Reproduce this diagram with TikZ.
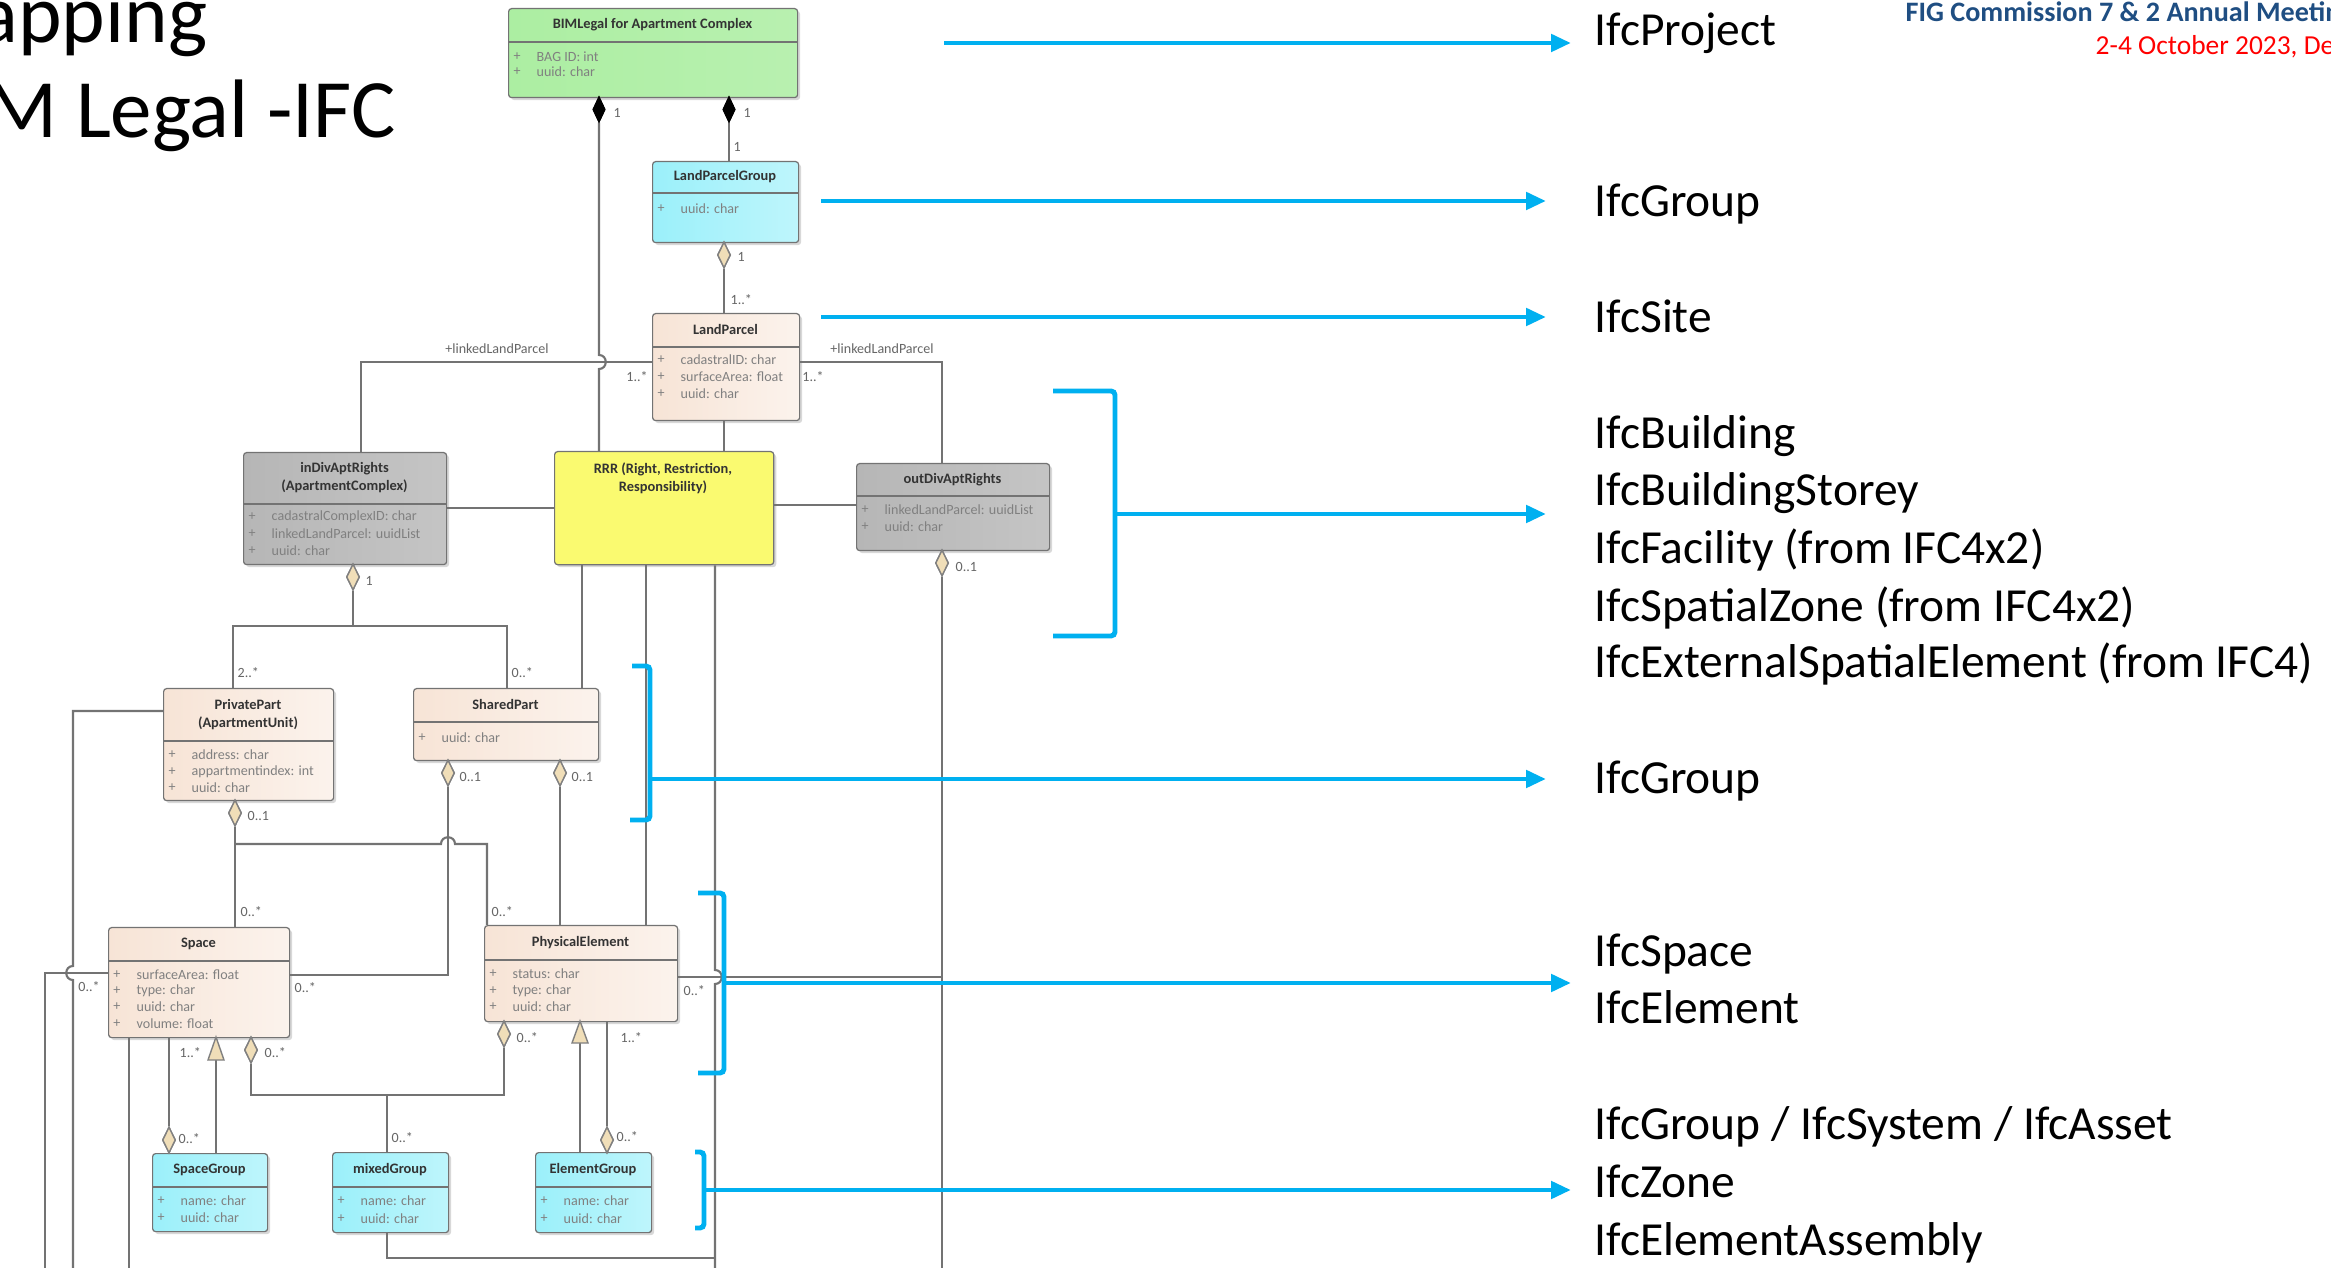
\documentclass[tikz,border=0pt]{standalone}
\usepackage{fontspec}
\setmainfont{Carlito}
\usetikzlibrary{shapes.geometric,arrows.meta,shadows}

\definecolor{ifcblue}{RGB}{0,176,240}
\definecolor{connc}{RGB}{115,115,115}
\definecolor{umlgreen}{RGB}{172,238,162}
\definecolor{umlcyan}{RGB}{155,240,250}
\definecolor{umlbeige}{RGB}{247,228,214}
\definecolor{umlgray}{RGB}{182,182,182}
\definecolor{umlyellow}{RGB}{250,250,112}
\definecolor{diamondfill}{RGB}{240,222,184}
\definecolor{figblue}{RGB}{31,78,130}

% class box: name, x1, y1, x2, y2, separator y, fill style, title
\newcommand{\umlclass}[8]{%
  \node[umlbox,#7,minimum width={(#4-#2)*0.01cm},minimum height={(#5-#3)*0.01cm},anchor=north west] (#1) at (#2,#3) {};
  \draw[sepline] (#1.west |- 0,#6) -- (#1.east |- 0,#6);
  \node[umltitle] (#1-t) at ({(#2+#4)/2},{(#3+#6)/2}) {#8};}
% attribute row: name, box left x, y, text
\newcommand{\umlattr}[4]{%
  \node[attrplus] (#1p) at (#2+9,#3) {+};
  \node[attrtext] (#1) at (#2+28,#3) {#4};}

\begin{document}
\begin{tikzpicture}[x=0.01cm,y=-0.01cm,
  umlbox/.style={draw=black!55,line width=0.35pt,rounded corners=0.03cm,inner sep=0pt,
    drop shadow={shadow xshift=0.025cm,shadow yshift=-0.025cm,opacity=0.3}},
  sepline/.style={draw=black!55,line width=0.35pt},
  umltitle/.style={font=\bfseries\fontsize{4.1pt}{5.1pt}\selectfont,text=black!80,align=center,inner sep=0pt},
  attrplus/.style={font=\fontsize{4pt}{4.5pt}\selectfont,text=black!50,inner sep=0pt},
  attrtext/.style={font=\fontsize{4pt}{4.5pt}\selectfont,text=black!50,anchor=west,inner sep=0pt},
  conn/.style={draw=connc,line width=0.6pt},
  mult/.style={font=\fontsize{4pt}{4.5pt}\selectfont,text=black!60,inner sep=0pt},
  aggd/.style={diamond,draw=black!50,fill=diamondfill,line width=0.4pt,minimum width=0.13cm,minimum height=0.26cm,inner sep=0pt},
  compd/.style={diamond,draw=black,fill=black,minimum width=0.12cm,minimum height=0.25cm,inner sep=0pt},
  gentri/.style={draw=black!50,fill=diamondfill,line width=0.4pt},
  greenbox/.style={left color=umlgreen,right color=umlgreen!85!white},
  cyanbox/.style={left color=umlcyan,right color=umlcyan!65!white},
  beigebox/.style={left color=umlbeige,right color=umlbeige!45!white},
  graybox/.style={left color=umlgray,right color=umlgray!80!white},
  yellowbox/.style={fill=umlyellow},
  ifcarrow/.style={draw=ifcblue,line width=1.4pt,-{Triangle[length=0.2cm,width=0.17cm]}},
  ifcbracket/.style={draw=ifcblue,line width=1.4pt,rounded corners=0.04cm},
  ifclabel/.style={font=\fontsize{13.5pt}{15pt}\selectfont,anchor=base west,inner sep=0pt},
]
\useasboundingbox (0,0) rectangle (2331,1268);
\clip (0,0) rectangle (2331,1268);
\fill[white] (0,0) rectangle (2331,1268);

% slide title and header
\node[font=\fontsize{23.6pt}{28pt}\selectfont,anchor=base east,inner sep=0pt] (title1) at (208,43) {apping};
\node[font=\fontsize{23.6pt}{28pt}\selectfont,anchor=base east,inner sep=0pt] (title2) at (396,138) {M Legal -IFC};
\node[font=\bfseries\fontsize{8pt}{9pt}\selectfont,text=figblue,anchor=base west,inner sep=0pt] (fig) at (1905,22) {FIG Commission 7 \& 2 Annual Meetin};
\node[font=\fontsize{7.8pt}{9pt}\selectfont,text=red,anchor=base west,inner sep=0pt] (date) at (2095,55) {2-4 October 2023, De};

% ---- classes ----
\umlclass{bim}{508}{8}{797}{97}{42}{greenbox}{BIMLegal for Apartment Complex}
\umlattr{bim-a1}{508}{57}{BAG ID: int}
\umlattr{bim-a2}{508}{72}{uuid: char}

\umlclass{lpg}{652}{161}{798}{242}{193}{cyanbox}{LandParcelGroup}
\umlattr{lpg-a1}{652}{209}{uuid: char}

\umlclass{lp}{652}{313}{799}{420}{347}{beigebox}{LandParcel}
\umlattr{lp-a1}{652}{360}{cadastralID: char}
\umlattr{lp-a2}{652}{377}{surfaceArea: float}
\umlattr{lp-a3}{652}{394}{uuid: char}

\umlclass{indiv}{243}{452}{446}{564}{504}{graybox}{inDivAptRights\\(ApartmentComplex)}
\umlattr{indiv-a1}{243}{517}{cadastralComplexID: char}
\umlattr{indiv-a2}{243}{534}{linkedLandParcel: uuidList}
\umlattr{indiv-a3}{243}{551}{uuid: char}

\node[umlbox,yellowbox,minimum width=2.19cm,minimum height=1.13cm,anchor=north west] (rrr) at (554,451) {};
\node[umltitle] (rrr-t) at (663,478) {RRR (Right, Restriction,\\Responsibility)};

\umlclass{outdiv}{856}{463}{1049}{550}{496}{graybox}{outDivAptRights}
\umlattr{outdiv-a1}{856}{510}{linkedLandParcel: uuidList}
\umlattr{outdiv-a2}{856}{527}{uuid: char}

\umlclass{pp}{163}{688}{333}{800}{741}{beigebox}{PrivatePart\\(ApartmentUnit)}
\umlattr{pp-a1}{163}{755}{address: char}
\umlattr{pp-a2}{163}{772}{appartmentindex: int}
\umlattr{pp-a3}{163}{788}{uuid: char}

\umlclass{sp}{413}{688}{598}{760}{722}{beigebox}{SharedPart}
\umlattr{sp-a1}{413}{738}{uuid: char}

\umlclass{space}{108}{927}{289}{1037}{961}{beigebox}{Space}
\umlattr{space-a1}{108}{975}{surfaceArea: float}
\umlattr{space-a2}{108}{991}{type: char}
\umlattr{space-a3}{108}{1007}{uuid: char}
\umlattr{space-a4}{108}{1024}{volume: float}

\umlclass{pe}{484}{925}{677}{1021}{960}{beigebox}{PhysicalElement}
\umlattr{pe-a1}{484}{974}{status: char}
\umlattr{pe-a2}{484}{991}{type: char}
\umlattr{pe-a3}{484}{1007}{uuid: char}

\umlclass{sg}{152}{1153}{267}{1231}{1187}{cyanbox}{SpaceGroup}
\umlattr{sg-a1}{152}{1201}{name: char}
\umlattr{sg-a2}{152}{1218}{uuid: char}

\umlclass{mg}{332}{1152}{448}{1232}{1187}{cyanbox}{mixedGroup}
\umlattr{mg-a1}{332}{1201}{name: char}
\umlattr{mg-a2}{332}{1219}{uuid: char}

\umlclass{eg}{535}{1152}{651}{1232}{1187}{cyanbox}{ElementGroup}
\umlattr{eg-a1}{535}{1201}{name: char}
\umlattr{eg-a2}{535}{1219}{uuid: char}

% ---- association ends ----
\node[compd] (bimd1) at (599,109.5) {};
\node[compd] (bimd2) at (729,109.5) {};
\node[aggd] (lpgd) at (724,255) {};
\node[aggd] (indivd) at (353,577) {};
\node[aggd] (outd) at (942,563) {};
\node[aggd] (spd1) at (448,773) {};
\node[aggd] (spd2) at (560,773) {};
\node[aggd] (ppd) at (235,813) {};
\node[aggd] (spaced) at (251,1050) {};
\node[aggd] (ped) at (504,1034) {};
\node[aggd] (sgd) at (169,1140) {};
\node[aggd] (egd) at (607,1140) {};
\coordinate (spacetri) at (216,1060);
\coordinate (petri) at (580,1043);
\coordinate (ppj) at (235,844);
\coordinate (mgj) at (387,1095);

% ---- connectors ----
\draw[conn] (bimd1.south) -- (599,355) .. controls (608,355) and (608,369) .. (599,369) -- (bimd1.south |- rrr.north);
\draw[conn] (bimd2.south) -- (bimd2.south |- lpg.north);
\draw[conn] (lpgd.south) -- (lpgd.south |- lp.north);
\draw[conn] (lp.west |- 0,362) -- (361,362) -- (361,0 |- indiv.north);
\draw[conn] (lp.east |- 0,362) -- (942,362) -- (942,0 |- outdiv.north);
\draw[conn] (lp.south -| 724,0) -- (724,0 |- rrr.north);
\draw[conn] (indiv.east |- 0,508) -- (rrr.west |- 0,508);
\draw[conn] (outdiv.west |- 0,505) -- (rrr.east |- 0,505);
\draw[conn] (indivd.south) -- (353,626);
\draw[conn] (233,0 |- pp.north) -- (233,626) -- (507,626) -- (507,0 |- sp.north);
\draw[conn] (spd1.south) -- (448,975) -- (space.east |- 0,975);
\draw[conn] (spd2.south) -- (spd2.south |- pe.north);
\draw[conn] (ppd.south) -- (ppd.south |- space.north);
\draw[conn] (ppj) -- (441,844) .. controls (441,835) and (455,835) .. (455,844) -- (487,844) -- (487,0 |- pe.north);
\draw[conn] (rrr.south -| 582,0) -- (582,0 |- sp.north);
\draw[conn] (rrr.south -| 646,0) -- (646,0 |- pe.north);
\draw[conn] (rrr.south -| 715,0) -- (715,970) .. controls (724,970) and (724,984) .. (715,984) -- (715,1280);
\draw[conn] (mg.south -| 387,0) -- (387,1258) -- (715,1258);
\draw[conn] (pe.east |- 0,977) -- (942,977);
\draw[conn] (outd.south) -- (942,1280);
\draw[conn] (pp.west |- 0,711) -- (73,711) -- (73,966) .. controls (64,966) and (64,980) .. (73,980) -- (73,1280);
\draw[conn] (space.west |- 0,973) -- (45,973) -- (45,1280);
\draw[conn] (space.south -| 129,0) -- (129,1280);
\draw[conn] (space.south -| 169,0) -- (sgd.north);
\draw[conn] (spacetri) -- (216,0 |- sg.north);
\draw[conn] (spaced.south) -- (251,1095) -- (504,1095) -- (ped.south);
\draw[conn] (mgj) -- (387,0 |- mg.north);
\draw[conn] (petri) -- (580,0 |- eg.north);
\draw[conn] (pe.south -| 607,0) -- (egd.north);

% association ends drawn over the lines
\node[compd] at (bimd1) {};
\node[compd] at (bimd2) {};
\foreach \d in {lpgd,indivd,outd,spd1,spd2,ppd,spaced,ped,sgd,egd} {\node[aggd] at (\d) {};}
\draw[gentri] (216,1037) -- (224,1060) -- (208,1060) -- cycle;
\draw[gentri] (580,1021) -- (588,1043) -- (572,1043) -- cycle;

% ---- multiplicities and role names ----
\node[mult,anchor=west] (m1) at (613,113) {1};
\node[mult,anchor=west] (m2) at (743,113) {1};
\node[mult,anchor=west] (m3) at (733,147) {1};
\node[mult,anchor=west] (m4) at (737,257) {1};
\node[mult,anchor=west] (m5) at (730,300) {1..*};
\node[mult] (m6) at (497,349) {+linkedLandParcel};
\node[mult] (m7) at (882,349) {+linkedLandParcel};
\node[mult] (m8) at (637,377) {1..*};
\node[mult] (m9) at (813,377) {1..*};
\node[mult,anchor=west] (m10) at (365,581) {1};
\node[mult,anchor=west] (m11) at (955,567) {0..1};
\node[mult,anchor=west] (m12) at (237,673) {2..*};
\node[mult,anchor=west] (m13) at (511,673) {0..*};
\node[mult,anchor=west] (m14) at (459,777) {0..1};
\node[mult,anchor=west] (m15) at (571,777) {0..1};
\node[mult,anchor=west] (m16) at (247,816) {0..1};
\node[mult,anchor=west] (m17) at (240,912) {0..*};
\node[mult,anchor=west] (m18) at (491,912) {0..*};
\node[mult] (m19) at (89,987) {0..*};
\node[mult,anchor=west] (m20) at (294,988) {0..*};
\node[mult,anchor=west] (m21) at (683,991) {0..*};
\node[mult,anchor=west] (m22) at (179,1053) {1..*};
\node[mult,anchor=west] (m23) at (264,1053) {0..*};
\node[mult,anchor=west] (m24) at (516,1038) {0..*};
\node[mult,anchor=west] (m25) at (620,1038) {1..*};
\node[mult,anchor=west] (m26) at (178,1139) {0..*};
\node[mult,anchor=west] (m27) at (391,1138) {0..*};
\node[mult,anchor=west] (m28) at (616,1137) {0..*};

% ---- IFC mapping ----
\coordinate (a1s) at (944,43);   \coordinate (a1e) at (1571,43);
\coordinate (a2s) at (821,201);  \coordinate (a2e) at (1546,201);
\coordinate (a3s) at (821,317);  \coordinate (a3e) at (1546,317);
\coordinate (a4s) at (1115,514); \coordinate (a4e) at (1546,514);
\coordinate (a5s) at (650,779);  \coordinate (a5e) at (1546,779);
\coordinate (a6s) at (724,983);  \coordinate (a6e) at (1571,983);
\coordinate (a7s) at (704,1190); \coordinate (a7e) at (1571,1190);
\draw[ifcbracket] (1053,391) -- (1115,391) -- (1115,636) -- (1053,636);
\draw[ifcbracket] (632,666) -- (650,666) -- (650,820) -- (630,820);
\draw[ifcbracket] (698,893) -- (724,893) -- (724,1073) -- (698,1073);
\draw[ifcbracket] (695,1152) -- (704,1152) -- (704,1228) -- (695,1228);
\foreach \a in {1,...,7} {\draw[ifcarrow] (a\a s) -- (a\a e);}

\node[ifclabel] (l1) at (1594,46) {IfcProject};
\node[ifclabel] (l2) at (1594,217) {IfcGroup};
\node[ifclabel] (l3) at (1594,333) {IfcSite};
\node[ifclabel] (l4) at (1594,449) {IfcBuilding};
\node[ifclabel] (l5) at (1594,506) {IfcBuildingStorey};
\node[ifclabel] (l6) at (1594,564) {IfcFacility (from IFC4x2)};
\node[ifclabel] (l7) at (1594,622) {IfcSpatialZone (from IFC4x2)};
\node[ifclabel] (l8) at (1594,678) {IfcExternalSpatialElement (from IFC4)};
\node[ifclabel] (l9) at (1594,794) {IfcGroup};
\node[ifclabel] (l10) at (1594,966) {IfcSpace};
\node[ifclabel] (l11) at (1594,1024) {IfcElement};
\node[ifclabel] (l12) at (1594,1139) {IfcGroup / IfcSystem / IfcAsset};
\node[ifclabel] (l13) at (1594,1197) {IfcZone};
\node[ifclabel] (l14) at (1594,1255) {IfcElementAssembly};
\end{tikzpicture}
\end{document}
